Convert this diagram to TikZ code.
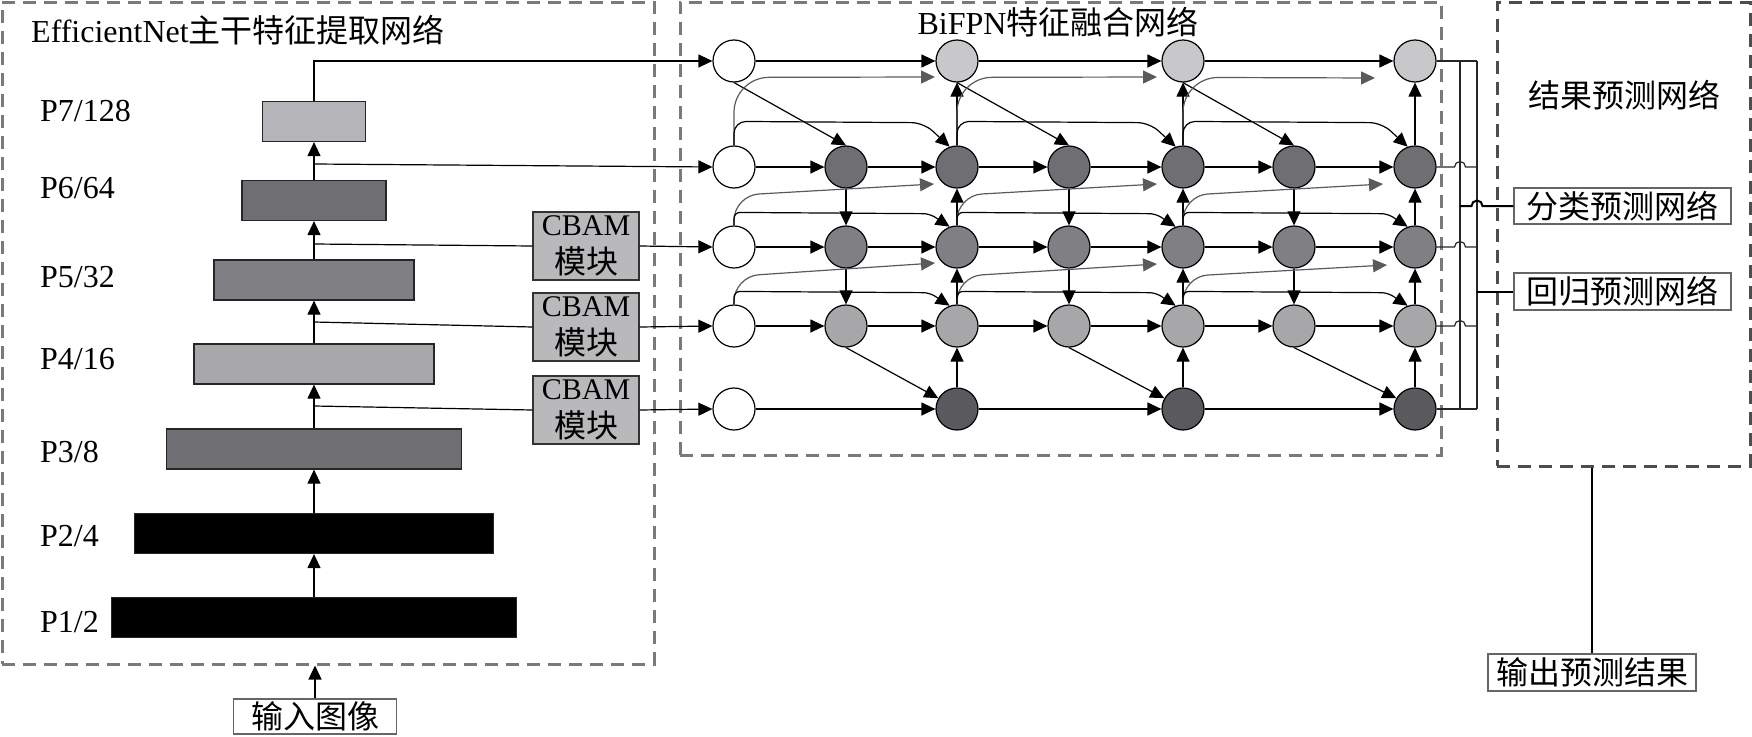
\documentclass[tikz,border=0pt]{standalone}
\usepackage{fontspec}
\setmainfont{Liberation Serif}
\newfontfamily\zhfam{Noto Sans CJK SC}
\newcommand\zh[1]{{\zhfam\fontsize{32}{37}\selectfont #1}}
\usetikzlibrary{arrows.meta,calc}
\definecolor{pseven}{HTML}{B5B5B9}
\definecolor{psix}{HTML}{6E6E73}
\definecolor{pfive}{HTML}{808084}
\definecolor{pfour}{HTML}{A8A8AB}
\definecolor{pthree}{HTML}{6E6E73}
\definecolor{cbamc}{HTML}{B9B9BC}
\definecolor{rowone}{HTML}{C8C8CA}
\definecolor{rowtwo}{HTML}{6E6E73}
\definecolor{rowthree}{HTML}{7F7F84}
\definecolor{rowfour}{HTML}{A7A7AA}
\definecolor{rowfive}{HTML}{5A5A5E}
\definecolor{framec}{HTML}{7A7A7A}
\definecolor{framedark}{HTML}{4D4D4D}
\definecolor{gline}{HTML}{5A5A5A}
\begin{document}
\begin{tikzpicture}[x=1pt,y=-1pt,font=\fontsize{32}{37}\selectfont,
  conn/.style={draw=black, line width=1.2pt},
  arr/.style={conn, -{Triangle[length=14pt,width=13pt]}},
  garr/.style={draw=gline, line width=1.2pt, -{Triangle[length=14pt,width=13pt]}},
  bus/.style={draw=black!85, line width=1.2pt},
  busthick/.style={draw=black, line width=2pt},
  pbox/.style={draw=black!85, line width=1.2pt, minimum height=40pt, inner sep=0pt},
  cnode/.style={circle, draw=black, line width=1.2pt, minimum size=42pt, inner sep=0pt},
  cbam/.style={draw=black!80, fill=cbamc, line width=1.2pt, minimum width=106pt, minimum height=68pt, inner sep=0pt, align=center, font=\fontsize{30}{38}\selectfont},
  tbox/.style={draw=black!60, line width=1.2pt, inner sep=0pt, minimum height=36pt},
  frame/.style={draw=framec, dash pattern=on 13pt off 8pt, line width=3pt, inner sep=0pt},
  lab/.style={anchor=west, inner sep=0pt}]
\useasboundingbox (0,0) rectangle (1752,736);

% frames
\node[frame, minimum width=652pt, minimum height=662pt] (lbox) at (328,333) {};
\node[frame, minimum width=761pt, minimum height=453pt] (fbox) at (1060.5,228.5) {};
\node[frame, draw=framedark, minimum width=253pt, minimum height=464pt] (rbox) at (1623.5,234) {};

% titles
\node[lab] (ttl1) at (31,30) {EfficientNet\zh{主干特征提取网络}};
\node[inner sep=0pt] (ttl2) at (1058,22) {BiFPN\zh{特征融合网络}};
\node[inner sep=0pt] (ttl3) at (1624,95) {\zh{结果预测网络}};

% backbone
\node[pbox, fill=pseven, minimum width=103pt] (P7) at (314,121.5) {};
\node[pbox, fill=psix, minimum width=144pt] (P6) at (314,200.5) {};
\node[pbox, fill=pfive, minimum width=200pt] (P5) at (314,280) {};
\node[pbox, fill=pfour, minimum width=240pt] (P4) at (314,364) {};
\node[pbox, fill=pthree, minimum width=295pt] (P3) at (314,449) {};
\node[pbox, fill=black, minimum width=359pt] (P2) at (314,533.5) {};
\node[pbox, fill=black, minimum width=405pt] (P1) at (314,617.5) {};

\node[lab] (L7) at (40,111) {P7/128};
\node[lab] (L6) at (40,188) {P6/64};
\node[lab] (L5) at (40,277) {P5/32};
\node[lab] (L4) at (40,359) {P4/16};
\node[lab] (L3) at (40,452) {P3/8};
\node[lab] (L2) at (40,536) {P2/4};
\node[lab] (L1) at (40,622) {P1/2};

\node[tbox, minimum width=163pt, minimum height=35pt] (inp) at (315,716.5) {\zh{输入图像}};

\draw[arr] (P1.north) -- (P2.south);
\draw[arr] (P2.north) -- (P3.south);
\draw[arr] (P3.north) -- (P4.south);
\draw[arr] (P4.north) -- (P5.south);
\draw[arr] (P5.north) -- (P6.south);
\draw[arr] (P6.north) -- (P7.south);
\draw[arr] (inp.north) -- (inp.north |- lbox.south);

% CBAM
\node[cbam] (cb1) at (586,246) {CBAM\\\zh{模块}};
\node[cbam] (cb2) at (586,327) {CBAM\\\zh{模块}};
\node[cbam] (cb3) at (586,410) {CBAM\\\zh{模块}};

% BiFPN nodes
\foreach \r/\y in {1/61,2/167,3/247,4/326,5/409}
  \node[cnode,fill=white] (n\r0) at (734,\y) {};
\foreach \c/\x in {1/846,2/957,3/1069,4/1183,5/1294,6/1415}{
  \node[cnode,fill=rowtwo] (n2\c) at (\x,167) {};
  \node[cnode,fill=rowthree] (n3\c) at (\x,247) {};
  \node[cnode,fill=rowfour] (n4\c) at (\x,326) {};
}
\foreach \c/\x in {2/957,4/1183,6/1415}{
  \node[cnode,fill=rowone] (n1\c) at (\x,61) {};
  \node[cnode,fill=rowfive] (n5\c) at (\x,409) {};
}

% feeders
\coordinate (t6) at (314,164);
\coordinate (t5) at (314,244);
\coordinate (t4) at (314,322);
\coordinate (t3) at (314,406);
\draw[arr] (P7.north) -- (P7.north |- n10.west) -- (n10.west);
\draw[arr] (t6) -- (n20.west);
\draw[conn] (t5) -- (cb1.west);
\draw[arr] (cb1.east) -- (n30.west);
\draw[conn] (t4) -- (cb2.west);
\draw[arr] (cb2.east) -- (n40.west);
\draw[conn] (t3) -- (cb3.west);
\draw[arr] (cb3.east) -- (n50.west);

% horizontal edges
\foreach \r in {2,3,4}{
  \foreach \a/\b in {0/1,1/2,2/3,3/4,4/5,5/6}
    \draw[arr] (n\r\a.east) -- (n\r\b.west);
}
\foreach \r in {1,5}{
  \foreach \a/\b in {0/2,2/4,4/6}
    \draw[arr] (n\r\a.east) -- (n\r\b.west);
}
% diagonals
\foreach \a/\b in {0/1,2/3,4/5}
  \draw[arr] (n1\a.south) -- (n2\b.north);
\foreach \a/\b in {1/2,3/4,5/6}
  \draw[arr] (n4\a.south) -- (n5\b.150);
% verticals
\foreach \c in {1,3,5}{
  \draw[arr] (n2\c.south) -- (n3\c.north);
  \draw[arr] (n3\c.south) -- (n4\c.north);
}
\foreach \c in {2,4,6}{
  \draw[arr] (n5\c.north) -- (n4\c.south);
  \draw[arr] (n4\c.north) -- (n3\c.south);
  \draw[arr] (n3\c.north) -- (n2\c.south);
  \draw[arr] (n2\c.north) -- (n1\c.south);
}
% gray skip curves
\draw[garr, rounded corners=35pt] (n20.north) -- ++(0,-68) -- ($(n12.center)+(-22,16)$);
\draw[garr, rounded corners=35pt] (n22.north) -- ++(0,-68) -- ($(n14.center)+(-26,16)$);
\draw[garr, rounded corners=35pt] (n24.north) -- ++(0,-68) -- ($(n16.center)+(-40,17)$);
\draw[garr, rounded corners=25pt] (n30.north) -- ++(0,-30) -- ($(n22.center)+(-23,17)$);
\draw[garr, rounded corners=25pt] (n32.north) -- ++(0,-30) -- ($(n24.center)+(-26,17)$);
\draw[garr, rounded corners=25pt] (n34.north) -- ++(0,-30) -- ($(n26.center)+(-32,17)$);
\draw[garr, rounded corners=25pt] (n40.north) -- ++(0,-28) -- ($(n32.center)+(-22,16)$);
\draw[garr, rounded corners=25pt] (n42.north) -- ++(0,-28) -- ($(n34.center)+(-26,17)$);
\draw[garr, rounded corners=25pt] (n44.north) -- ++(0,-28) -- ($(n36.center)+(-28,18)$);
% black skip curves
\foreach \a/\b in {0/2,2/4,4/6}{
  \draw[arr, rounded corners=12pt] (n2\a.north) -- ++(0,-24) -- ($(n2\b.110)+(-26,-24)$) -- (n2\b.110);
  \draw[arr, rounded corners=6pt] (n3\a.north) -- ++(0,-13) -- ($(n3\b.110)+(-20,-13)$) -- (n3\b.110);
  \draw[arr, rounded corners=6pt] (n4\a.north) -- ++(0,-13) -- ($(n4\b.110)+(-20,-13)$) -- (n4\b.110);
}

% right bus
\coordinate (A1) at (1460,61);
\coordinate (A5) at (1460,409);
\coordinate (B1) at (1477,61);
\coordinate (B5) at (1477,409);
\draw[bus] (n16.east) -- (B1);
\draw[bus] (n56.east) -- (B5);
\draw[bus] (A1) -- (A5);
\draw[bus] (B1) -- (B5);
\foreach \r in {2,3,4}
  \draw[bus] (n\r6.east) -- ($(A1 |- n\r6.east)+(-5.5,0)$) arc[start angle=180,end angle=360,radius=5.5] -- (B1 |- n\r6.east);

\node[tbox, minimum width=217pt] (cls) at (1622.5,206) {\zh{分类预测网络}};
\node[tbox, minimum width=217pt, minimum height=37pt] (reg) at (1622.5,291.5) {\zh{回归预测网络}};
\draw[busthick] (A1 |- cls.west) -- ($(B1 |- cls.west)+(-5.5,0)$) arc[start angle=180,end angle=360,radius=5.5] -- (cls.west);
\draw[busthick] (B1 |- reg.west) -- (reg.west);

\node[tbox, minimum width=208pt, minimum height=37pt] (out) at (1592,672.5) {\zh{输出预测结果}};
\draw[conn] (out.north |- rbox.south) -- (out.north);
\end{tikzpicture}
\end{document}
